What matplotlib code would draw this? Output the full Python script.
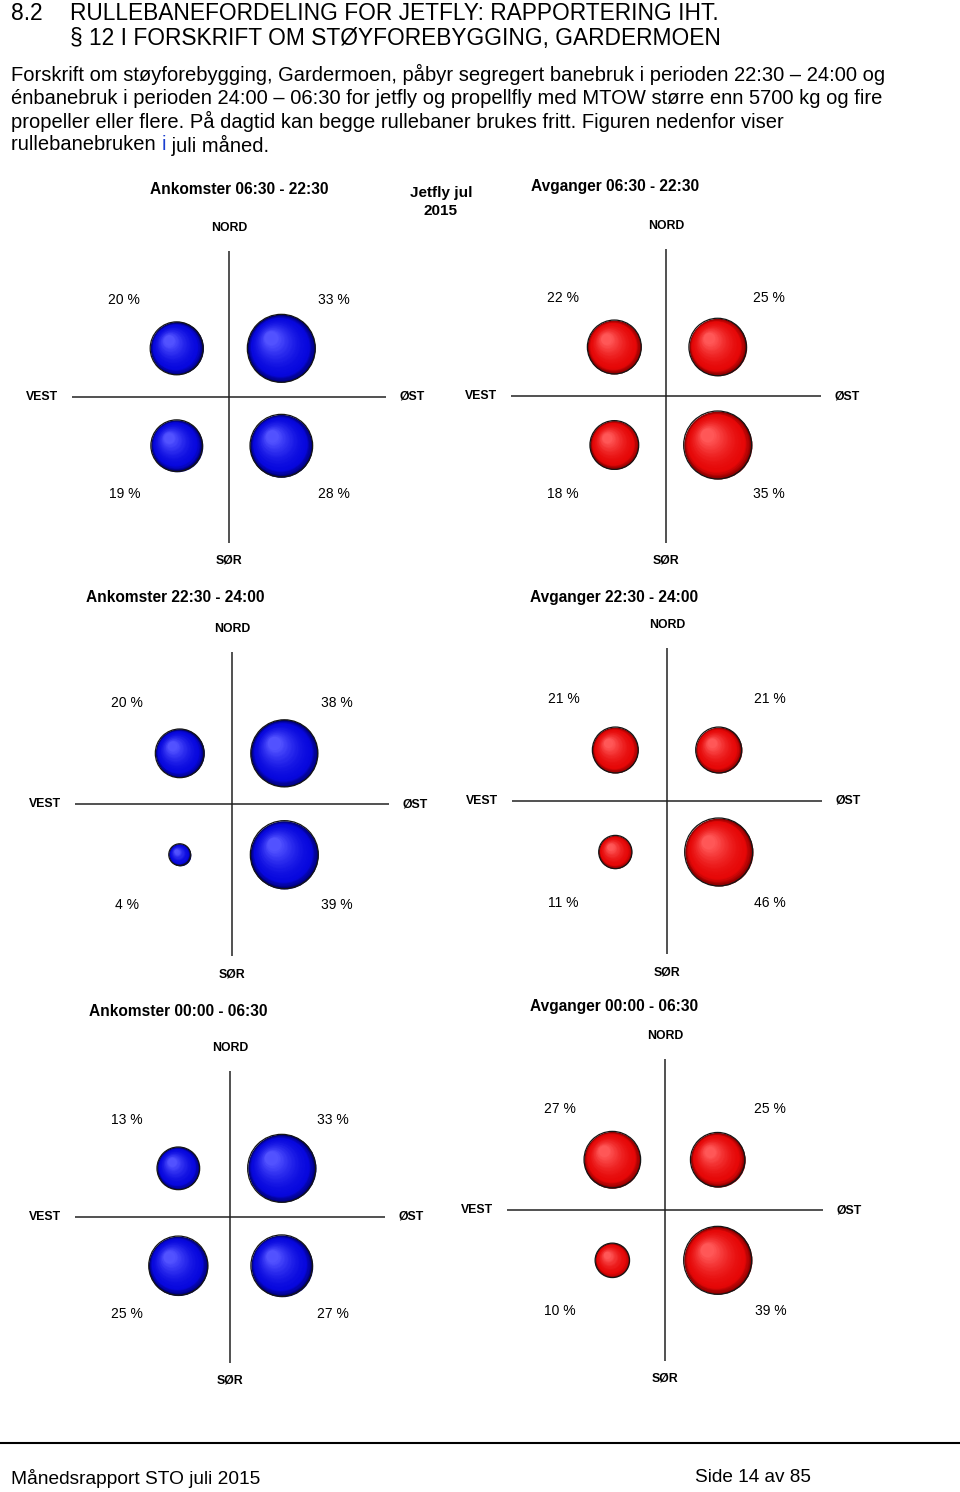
import numpy as np
import matplotlib
matplotlib.use("Agg")
import matplotlib.pyplot as plt
from matplotlib.transforms import offset_copy
from matplotlib.lines import Line2D

plt.rcParams["font.family"] = ["Liberation Sans", "DejaVu Sans"]

W, H = 960, 1492

# quadrant order: nordvest, nordøst, sørvest, sørøst
quad_x = [-1, 1, -1, 1]
quad_y = [1, 1, -1, -1]

panel_titles = [
    "Ankomster 06:30 - 22:30",
    "Avganger 06:30 - 22:30",
    "Ankomster 22:30 - 24:00",
    "Avganger 22:30 - 24:00",
    "Ankomster 00:00 - 06:30",
    "Avganger 00:00 - 06:30",
]
arr_0630_2230 = [20, 33, 19, 28]
dep_0630_2230 = [22, 25, 18, 35]
arr_2230_2400 = [20, 38, 4, 39]
dep_2230_2400 = [21, 21, 11, 46]
arr_0000_0630 = [13, 33, 25, 27]
dep_0000_0630 = [27, 25, 10, 39]
panel_values = [arr_0630_2230, dep_0630_2230, arr_2230_2400,
                dep_2230_2400, arr_0000_0630, dep_0000_0630]
panel_kind = ["arr", "dep", "arr", "dep", "arr", "dep"]

# pixel layout: cross centre, half width, half height, title position
layout = [
    (229, 397, 157, 146, 239, 190),
    (666, 396, 155, 147, 615, 187),
    (232, 804, 157, 152, 175, 598),
    (667, 801, 155, 153, 614, 598),
    (230, 1217, 155, 146, 178, 1011),
    (665, 1210, 158, 151, 614, 1007),
]

colors = {
    "arr": ((0.0, 0.0, 0.42), (0.03, 0.03, 0.87), (0.32, 0.32, 1.0)),
    "dep": ((0.50, 0.0, 0.0), (0.90, 0.03, 0.03), (1.0, 0.34, 0.34)),
}

fig = plt.figure(figsize=(W / 100, H / 100), dpi=100)
renderer = fig.canvas.get_renderer()


def fx(x):
    return x / W


def fy(y):
    return 1 - y / H


def mix(a, b, t):
    return tuple(a[i] + (b[i] - a[i]) * t for i in range(3))


def fit_text(x, y, s, target_w, size, **kw):
    t = fig.text(fx(x), fy(y), s, fontsize=size, **kw)
    w = t.get_window_extent(renderer).width
    t.set_fontsize(size * target_w / w)
    return t


def draw_bubble(ax, x, y, d_px, kind):
    rim, base, hi = colors[kind]
    r_pt = d_px * 0.72 / 2
    n = 30
    for k in range(n):
        t = k / (n - 1)
        f = 1 - 0.8 * t
        off = 0.3 * r_pt * t
        if t < 0.18:
            col = mix(rim, base, t / 0.18)
        else:
            col = mix(base, hi, ((t - 0.18) / 0.82) ** 1.6)
        tr = offset_copy(ax.transData, fig=fig, x=-off, y=off, units="points")
        ax.scatter([x], [y], s=(2 * r_pt * f) ** 2, color=col, lw=0,
                   transform=tr, zorder=3)
    ax.scatter([x], [y], s=(2 * r_pt) ** 2, facecolor="none",
               edgecolor="#151515", lw=0.9, zorder=4)


# header
h1 = fit_text(70, 13, "RULLEBANEFORDELING FOR JETFLY: RAPPORTERING IHT.", 649, 16, va="center")
hsize = h1.get_fontsize()
fig.text(fx(11), fy(13), "8.2", fontsize=hsize, va="center")
fig.text(fx(70), fy(38), "§ 12 I FORSKRIFT OM STØYFOREBYGGING, GARDERMOEN", fontsize=hsize, va="center")

body = [
    "Forskrift om støyforebygging, Gardermoen, påbyr segregert banebruk i perioden 22:30 – 24:00 og",
    "énbanebruk i perioden 24:00 – 06:30 for jetfly og propellfly med MTOW større enn 5700 kg og fire",
    "propeller eller flere. På dagtid kan begge rullebaner brukes fritt. Figuren nedenfor viser",
]
body_y = [74, 98, 121, 145]
t0 = fit_text(11, body_y[0], body[0], 876, 14, va="center")
bsize = t0.get_fontsize()
for s, y in zip(body[1:], body_y[1:3]):
    fig.text(fx(11), fy(y), s, fontsize=bsize, va="center")
p1 = fig.text(fx(11), fy(body_y[3]), "rullebanebruken ", fontsize=bsize, va="center")
x1 = 11 + p1.get_window_extent(renderer).width
p2 = fig.text(fx(x1), fy(body_y[3]), "i", fontsize=bsize, va="center", color="#1a3fd0")
x2 = x1 + p2.get_window_extent(renderer).width
fig.text(fx(x2), fy(body_y[3]), " juli måned.", fontsize=bsize, va="center")

fig.text(fx(441), fy(202), "Jetfly jul\n2015", fontsize=11, fontweight="bold",
         ha="center", va="center", linespacing=1.35)

for title, values, kind, (cx, cy, hw, hh, tx, ty) in zip(panel_titles, panel_values, panel_kind, layout):
    ax = fig.add_axes([fx(cx - hw), fy(cy + hh), 2 * hw / W, 2 * hh / H])
    ax.set_xlim(-3, 3)
    ax.set_ylim(-3, 3)
    ax.axis("off")
    ax.axhline(0, color="#222222", lw=1.1)
    ax.axvline(0, color="#222222", lw=1.1)
    vmax = max(values)
    for qx, qy, v in zip(quad_x, quad_y, values):
        draw_bubble(ax, qx, qy, 68 * np.sqrt(v / vmax), kind)
        ax.text(2 * qx, 2 * qy, f"{v} %", ha="center", va="center", fontsize=10)
    lab = dict(xycoords="axes fraction", textcoords="offset pixels",
               ha="center", va="center", fontsize=8.8, fontweight="bold")
    ax.annotate("NORD", xy=(0.5, 1), xytext=(0, 23), **lab)
    ax.annotate("SØR", xy=(0.5, 0), xytext=(0, -18), **lab)
    ax.annotate("VEST", xy=(0, 0.5), xytext=(-30, 0), **lab)
    ax.annotate("ØST", xy=(1, 0.5), xytext=(26, 0), **lab)
    fig.text(fx(tx), fy(ty), title, fontsize=11.2, fontweight="bold",
             ha="center", va="center")

# footer
fig.add_artist(Line2D([0, 1], [fy(1443), fy(1443)], transform=fig.transFigure,
                      color="black", lw=1.5))
fit_text(11, 1478, "Månedsrapport STO juli 2015", 251, 14, va="center")
fit_text(695, 1478, "Side 14 av 85", 117, 14, va="center")

fig.savefig("out.png", dpi=100)
